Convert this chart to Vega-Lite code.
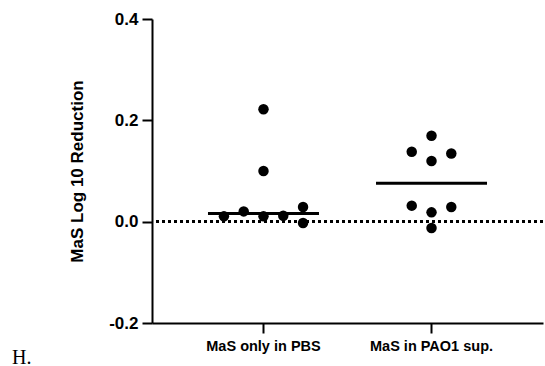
{
  "$schema": "https://vega.github.io/schema/vega-lite/v6.json",
  "width": 391,
  "height": 304,
  "autosize": "none",
  "padding": {"left": 152, "top": 19, "right": 2, "bottom": 43},
  "background": "white",
  "config": {
    "view": {"stroke": null},
    "font": "Liberation Sans",
    "axis": {
      "grid": false,
      "domainColor": "black",
      "domainWidth": 2,
      "tickColor": "black",
      "tickWidth": 2,
      "tickSize": 10,
      "labelColor": "black",
      "labelFont": "Liberation Sans",
      "labelFontWeight": "bold",
      "titleColor": "black",
      "titleFont": "Liberation Sans",
      "titleFontWeight": "bold"
    }
  },
  "title": {
    "text": "H.",
    "orient": "bottom",
    "anchor": "start",
    "frame": "group",
    "font": "Liberation Serif",
    "fontSize": 20,
    "fontWeight": "normal",
    "color": "black",
    "dx": -140,
    "offset": -5
  },
  "data": {
    "values": [
      {"group": "MaS only in PBS", "slot": "3", "value": 0.222},
      {"group": "MaS only in PBS", "slot": "3", "value": 0.100},
      {"group": "MaS only in PBS", "slot": "1", "value": 0.0105},
      {"group": "MaS only in PBS", "slot": "2", "value": 0.0203},
      {"group": "MaS only in PBS", "slot": "3", "value": 0.0105},
      {"group": "MaS only in PBS", "slot": "4", "value": 0.0118},
      {"group": "MaS only in PBS", "slot": "5", "value": 0.029},
      {"group": "MaS only in PBS", "slot": "5", "value": -0.0026},
      {"group": "MaS in PAO1 sup.", "slot": "3", "value": 0.1697},
      {"group": "MaS in PAO1 sup.", "slot": "2", "value": 0.138},
      {"group": "MaS in PAO1 sup.", "slot": "4", "value": 0.1346},
      {"group": "MaS in PAO1 sup.", "slot": "3", "value": 0.1197},
      {"group": "MaS in PAO1 sup.", "slot": "2", "value": 0.0316},
      {"group": "MaS in PAO1 sup.", "slot": "4", "value": 0.029},
      {"group": "MaS in PAO1 sup.", "slot": "3", "value": 0.0184},
      {"group": "MaS in PAO1 sup.", "slot": "3", "value": -0.0125}
    ]
  },
  "layer": [
    {
      "mark": {"type": "rule", "color": "black", "strokeDash": [3, 3], "strokeWidth": 2.5},
      "encoding": {
        "y": {"datum": 0, "type": "quantitative"}
      }
    },
    {
      "mark": {"type": "point", "shape": "circle", "filled": true, "color": "black", "opacity": 1, "size": 110},
      "encoding": {
        "x": {
          "field": "group",
          "type": "nominal",
          "sort": null,
          "scale": {"type": "band", "paddingInner": 0.375, "paddingOuter": 0.351},
          "axis": {"title": null, "labelAngle": 0, "labelFontSize": 14.5, "labelPadding": 6}
        },
        "xOffset": {
          "field": "slot",
          "type": "nominal",
          "scale": {"domain": ["1", "2", "3", "4", "5"], "paddingInner": 0, "paddingOuter": 0.655}
        },
        "y": {
          "field": "value",
          "type": "quantitative",
          "scale": {"domain": [-0.2, 0.4], "nice": false, "zero": false},
          "axis": {
            "title": "MaS Log 10 Reduction",
            "values": [-0.2, 0, 0.2, 0.4],
            "labelExpr": "datum.value < 0 ? '-' + format(-datum.value, '.1f') : format(datum.value, '.1f')",
            "labelFontSize": 17,
            "labelPadding": 4,
            "titleFontSize": 17,
            "titlePadding": 22
          }
        }
      }
    },
    {
      "mark": {"type": "tick", "color": "black", "orient": "horizontal", "size": 111, "thickness": 3},
      "encoding": {
        "x": {"field": "group", "type": "nominal", "sort": null},
        "y": {"aggregate": "median", "field": "value", "type": "quantitative"}
      }
    }
  ]
}
